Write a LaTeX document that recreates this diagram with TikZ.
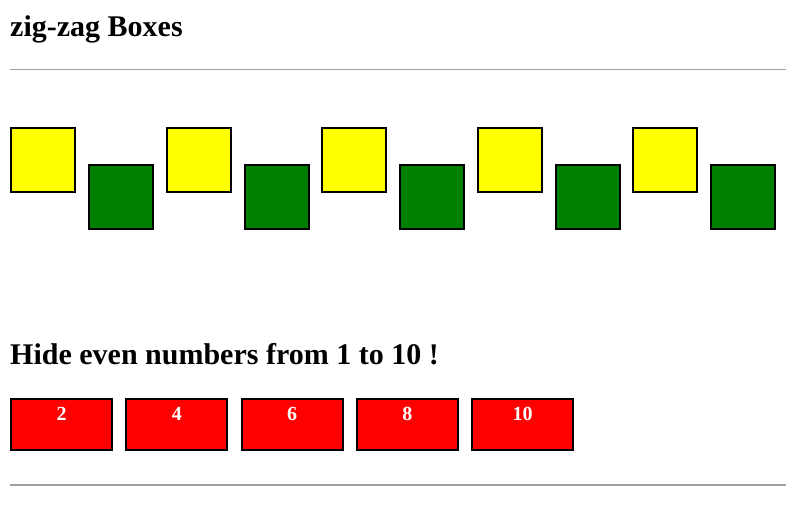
\documentclass[tikz,border=0pt]{standalone}
\usepackage{fontspec}
\setmainfont{Liberation Serif}
\definecolor{htmlgreen}{RGB}{0,128,0}
\definecolor{htmlyellow}{RGB}{255,255,0}
\definecolor{htmlred}{RGB}{255,0,0}
\definecolor{rulegray}{RGB}{160,160,160}
\begin{document}
\begin{tikzpicture}[x=1pt,y=-1pt,
    heading/.style={anchor=base west,inner sep=0pt,font=\fontsize{30}{36}\selectfont\bfseries},
    zigbox/.style={draw=black,line width=2pt,minimum width=64pt,minimum height=64pt,inner sep=0pt},
    hidebox/.style={draw=black,fill=htmlred,line width=2pt,inner sep=0pt,text width=101pt,align=center,
        text height=21pt,text depth=30pt,text=white,font=\fontsize{20}{24}\selectfont\bfseries},
    hrule/.style={draw=rulegray,line width=1.6pt}]
            \useasboundingbox (0,0) rectangle (786,521);

            \node[heading] (title) at (10,37) {zig-zag Boxes};
            \coordinate (hr1l) at (10,69.5);
            \coordinate (hr1r) at (786,69.5);
            \draw[hrule] (hr1l) -- (hr1r);

            \foreach \i in {0,...,4} {
                \node[zigbox,fill=htmlyellow] (y\i) at (43+155.5*\i,160) {};
                \node[zigbox,fill=htmlgreen] (g\i) at (121+155.5*\i,197) {};
            }

            \node[heading] (hide) at (10,364) {Hide even numbers from 1 to 10 !};

            \foreach \i in {0,...,4} {
                \pgfmathtruncatemacro{\num}{2*(\i+1)}
                \node[hidebox,anchor=north] (r\i) at (61.5+115.25*\i,398) {\num};
            }

            \coordinate (hr2l) at (10,485);
            \coordinate (hr2r) at (786,485);
            \draw[hrule] (hr2l) -- (hr2r);
        \end{tikzpicture}
\end{document}
